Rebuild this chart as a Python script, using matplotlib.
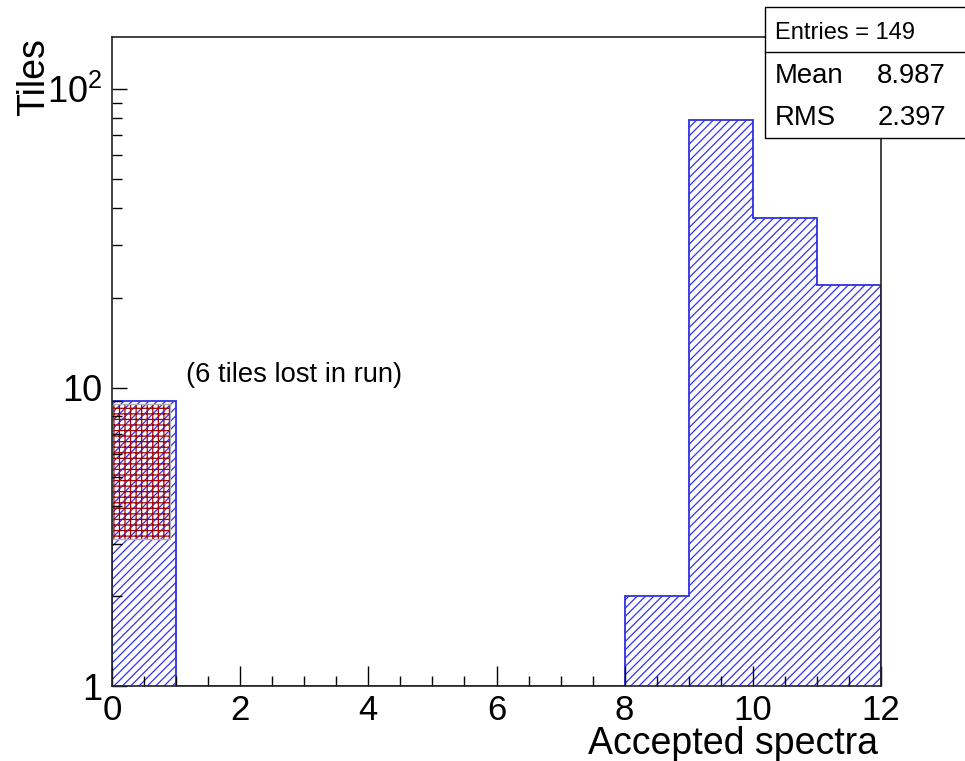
import numpy as np
import matplotlib.pyplot as plt
from matplotlib.patches import Rectangle
from matplotlib.lines import Line2D

plt.rcParams['font.family'] = ['Liberation Sans', 'DejaVu Sans']
plt.rcParams['mathtext.fontset'] = 'custom'
plt.rcParams['mathtext.rm'] = 'Liberation Sans'
plt.rcParams['hatch.linewidth'] = 0.9

# Histogramm-Daten (Anzahl akzeptierter Spektren pro Tile)
bin_edges = np.arange(0, 13)
counts = [9, 0, 0, 0, 0, 0, 0, 0, 2, 79, 37, 22]

# verlorene Tiles (rote Box)
lost_x = [0.0, 0.9]
lost_y = [3.1, 8.8]

entries = 149
mean = 8.987
rms = 2.397

ytick_vals = [1, 10, 100]
ytick_labels = ['1', '10', r'$\mathregular{10^2}$']

W, H = 965, 761
fig = plt.figure(figsize=(W / 100, H / 100), dpi=100)
ax = fig.add_axes([112 / W, 1 - 686 / H, 769 / W, 649 / H])
ax.set_yscale('log')

c = np.array(counts, dtype=float)
c_plot = np.where(c > 0, c, 1)

# schraffierte Fläche + Umriss
ax.stairs(c_plot, bin_edges, baseline=1, fill=True, facecolor='none',
          edgecolor='#3030ff', hatch='////', linewidth=0)
ax.stairs(c_plot, bin_edges, baseline=1, color='#3030e0', linewidth=1.3)

# rote Kreuzschraffur (durchsichtig, blaue Schraffur bleibt sichtbar)
ax.add_patch(Rectangle((lost_x[0], lost_y[0]), lost_x[1] - lost_x[0], lost_y[1] - lost_y[0],
                       facecolor='none', edgecolor='#a00000', hatch='+++', linewidth=0))
ax.add_patch(Rectangle((lost_x[0], lost_y[0]), lost_x[1] - lost_x[0], lost_y[1] - lost_y[0],
                       facecolor='none', edgecolor='#b0b0b0', linewidth=1.0))

ax.text(1.15, 10.4, '(6 tiles lost in run)', fontsize=19.7, va='baseline', ha='left')

ax.set_xlim(0, 12)
ax.set_ylim(1, 149.5)
ax.set_xticks(np.arange(0, 13, 2))
ax.set_xticks(np.arange(0, 12.01, 0.5), minor=True)
ax.set_yticks(ytick_vals)
ax.set_yticklabels(ytick_labels)

ax.tick_params(axis='x', which='major', direction='in', length=14.5, width=1.0, labelsize=25, pad=6)
ax.tick_params(axis='x', which='minor', direction='in', length=7.2, width=1.0)
ax.tick_params(axis='y', which='major', direction='in', length=11, width=1.0, labelsize=26, pad=7)
ax.tick_params(axis='y', which='minor', direction='in', length=7.2, width=1.0)

for s in ax.spines.values():
    s.set_linewidth(1.2)
    s.set_color('#222222')

# Achsentitel
fig.text(878 / W, 1 - 754 / H, 'Accepted spectra', fontsize=27, ha='right', va='baseline')
fig.text(34 / W, 1 - 38 / H, 'Tiles', fontsize=27, rotation=90, ha='center', va='top')

# Statistik-Box
bx0, by0, bx1, by1 = 765, 7, 975, 138
fig.add_artist(Rectangle((bx0 / W, 1 - by1 / H), (bx1 - bx0) / W, (by1 - by0) / H,
                         transform=fig.transFigure, facecolor='white',
                         edgecolor='black', linewidth=1.0, zorder=5))
fig.add_artist(Line2D([bx0 / W, bx1 / W], [1 - 52 / H, 1 - 52 / H],
                      transform=fig.transFigure, color='black', linewidth=1.0, zorder=6))
fig.text(775 / W, 1 - 39 / H, 'Entries = %d' % entries, fontsize=17, va='baseline', zorder=7)
fig.text(775 / W, 1 - 83 / H, 'Mean', fontsize=19.8, va='baseline', zorder=7)
fig.text(946 / W, 1 - 83 / H, '%.3f' % mean, fontsize=19.8, va='baseline', ha='right', zorder=7)
fig.text(775 / W, 1 - 125 / H, 'RMS', fontsize=19.8, va='baseline', zorder=7)
fig.text(946 / W, 1 - 125 / H, '%.3f' % rms, fontsize=19.8, va='baseline', ha='right', zorder=7)

fig.savefig('out.png', dpi=100)
